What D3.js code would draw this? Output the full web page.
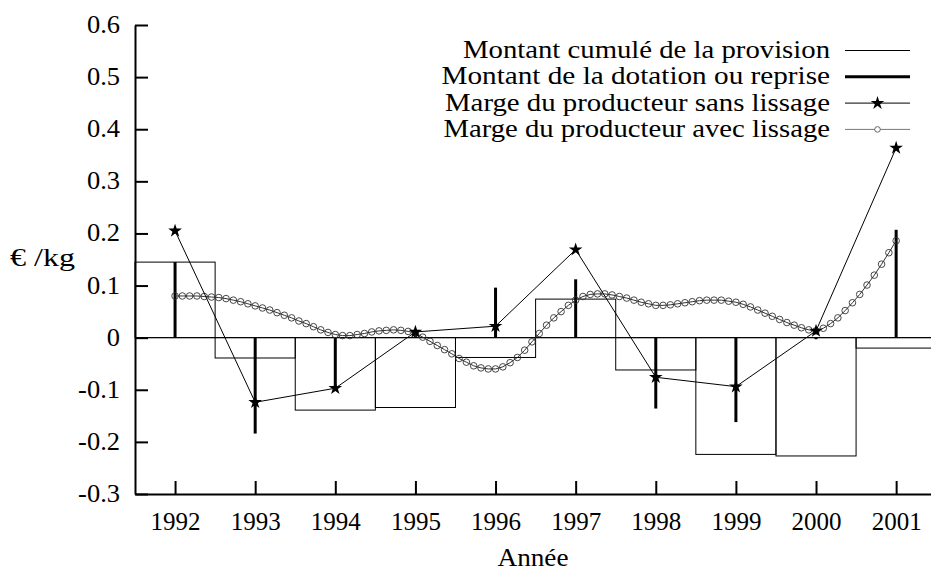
<!DOCTYPE html>
<html>
<head>
<meta charset="utf-8">
<script src="https://cdn.jsdelivr.net/npm/d3@7"></script>
<style>
  html, body { margin: 0; padding: 0; background: #fff; }
  svg { display: block; }
  svg text { font-family: "Liberation Serif", "DejaVu Serif", "Noto Serif", serif; fill: #000; }
</style>
</head>
<body>
<svg id="chart" width="931" height="572"></svg>
<script>
// Années
const years = [1992, 1993, 1994, 1995, 1996, 1997, 1998, 1999, 2000, 2001];

// Montant cumulé de la provision (€/kg)
const provisionCumul = [0.145, -0.039, -0.139, -0.134, -0.038, 0.074, -0.062, -0.224, -0.227, -0.020];

// Montant de la dotation (ou reprise) de l'année (€/kg)
const dotation = [0.145, -0.184, -0.100, 0.005, 0.096, 0.112, -0.136, -0.162, -0.003, 0.207];

// Marge du producteur sans lissage (€/kg)
const margeSansLissage = [0.205, -0.124, -0.097, 0.011, 0.022, 0.169, -0.076, -0.094, 0.013, 0.364];

// Marge du producteur avec lissage : 100 échantillons réguliers de 1992 à 2001
const margeAvecLissage = [
  0.080, 0.080, 0.080, 0.080, 0.079, 0.078, 0.077, 0.075, 0.072, 0.069,
  0.065, 0.061, 0.057, 0.053, 0.048, 0.043, 0.038, 0.032, 0.027, 0.021,
  0.015, 0.010, 0.006, 0.004, 0.004, 0.006, 0.008, 0.011, 0.013, 0.014,
  0.015, 0.014, 0.012, 0.009, 0.001, -0.007, -0.015, -0.023, -0.031, -0.040,
  -0.047, -0.054, -0.058, -0.060, -0.060, -0.056, -0.048, -0.038, -0.024, -0.008,
  0.008, 0.024, 0.038, 0.050, 0.062, 0.072, 0.079, 0.083, 0.084, 0.084,
  0.082, 0.079, 0.076, 0.072, 0.068, 0.065, 0.062, 0.062, 0.063, 0.065,
  0.067, 0.069, 0.071, 0.072, 0.072, 0.072, 0.070, 0.068, 0.064, 0.059,
  0.053, 0.047, 0.041, 0.035, 0.029, 0.024, 0.019, 0.015, 0.013, 0.018,
  0.027, 0.038, 0.052, 0.067, 0.083, 0.101, 0.120, 0.141, 0.163, 0.186
];

// Graduations de l'axe vertical
const yTicks = [-0.3, -0.2, -0.1, 0, 0.1, 0.2, 0.3, 0.4, 0.5, 0.6];

// Légende
const legendLabels = [
  "Montant cumulé de la provision",
  "Montant de la dotation ou reprise",
  "Marge du producteur sans lissage",
  "Marge du producteur avec lissage"
];

const svg = d3.select("#chart");
const FONT = 25;
const SERIF = '"Liberation Serif", "DejaVu Serif", "Noto Serif", serif';

const x = d3.scaleLinear().domain([1991.5, 2001.5]).range([135, 936.2]);
const y = d3.scaleLinear().domain([-0.3, 0.6]).range([494, 25]);

// Widen a text element horizontally around its own anchor point
function widen(sel, k) {
  sel.each(function () {
    const t = d3.select(this);
    const tx = +t.attr("x") || 0;
    t.attr("x", tx / k).attr("transform", `scale(${k},1)`);
  });
}

// Barres de provision cumulée (boîtes larges d'une année)
svg.append("g")
  .selectAll("rect")
  .data(years)
  .join("rect")
  .attr("x", (d) => x(d - 0.5))
  .attr("width", (d) => x(d + 0.5) - x(d - 0.5))
  .attr("y", (d, i) => Math.min(y(0), y(provisionCumul[i])))
  .attr("height", (d, i) => Math.abs(y(provisionCumul[i]) - y(0)))
  .attr("fill", "none")
  .attr("stroke", "#000")
  .attr("stroke-width", 1);

// Ligne du zéro
svg.append("line")
  .attr("x1", x(1991.5)).attr("x2", 931)
  .attr("y1", y(0)).attr("y2", y(0))
  .attr("stroke", "#000").attr("stroke-width", 1);

// Dotations / reprises (traits épais)
svg.append("g")
  .selectAll("line")
  .data(years)
  .join("line")
  .attr("x1", (d) => x(d)).attr("x2", (d) => x(d))
  .attr("y1", y(0))
  .attr("y2", (d, i) => y(dotation[i]))
  .attr("stroke", "#000")
  .attr("stroke-width", 3);

// Marge avec lissage : ligne + petits cercles
const smoothPts = margeAvecLissage.map((v, i) => [1992 + i * 9 / (margeAvecLissage.length - 1), v]);
svg.append("path")
  .datum(smoothPts)
  .attr("d", d3.line().x((d) => x(d[0])).y((d) => y(d[1])))
  .attr("fill", "none")
  .attr("stroke", "#333")
  .attr("stroke-width", 1);
svg.append("g")
  .selectAll("circle")
  .data(smoothPts)
  .join("circle")
  .attr("cx", (d) => x(d[0]))
  .attr("cy", (d) => y(d[1]))
  .attr("r", 3.3)
  .attr("fill", "none")
  .attr("stroke", "#333")
  .attr("stroke-width", 0.9);

// Marge sans lissage : ligne + étoiles
svg.append("path")
  .datum(years.map((d, i) => [d, margeSansLissage[i]]))
  .attr("d", d3.line().x((d) => x(d[0])).y((d) => y(d[1])))
  .attr("fill", "none")
  .attr("stroke", "#000")
  .attr("stroke-width", 1);
const star = d3.symbol().type(d3.symbolStar).size(58);
svg.append("g")
  .selectAll("path")
  .data(years)
  .join("path")
  .attr("d", star)
  .attr("transform", (d, i) => `translate(${x(d)},${y(margeSansLissage[i])})`)
  .attr("fill", "#000");

// Axe vertical
const yAxis = svg.append("g")
  .attr("transform", `translate(${x(1991.5)},0)`)
  .call(d3.axisLeft(y)
    .tickValues(yTicks)
    .tickFormat((d) => (d === 0 ? "0" : d.toFixed(1)))
    .tickSizeInner(-13)
    .tickSizeOuter(0)
    .tickPadding(15));
yAxis.attr("font-family", SERIF).attr("font-size", FONT);
yAxis.selectAll("path, line").attr("stroke", "#000").attr("stroke-width", 2);
yAxis.selectAll("text")
  .attr("fill", "#000")
  .attr("dy", "0.3em")
  .call(widen, 1.06);

// Axe horizontal
const xAxis = svg.append("g")
  .attr("transform", `translate(0,${y(-0.3)})`)
  .call(d3.axisBottom(x)
    .tickValues(years)
    .tickFormat((d) => String(d))
    .tickSizeInner(-13)
    .tickSizeOuter(0)
    .tickPadding(19));
xAxis.attr("font-family", SERIF).attr("font-size", FONT);
xAxis.selectAll("path, line").attr("stroke", "#000").attr("stroke-width", 2);
xAxis.selectAll("text")
  .attr("fill", "#000")
  .attr("dy", "0.68em");

// Titres des axes
svg.append("text")
  .attr("x", 533).attr("y", 566)
  .attr("text-anchor", "middle")
  .attr("font-family", SERIF)
  .attr("font-size", FONT)
  .text("Année")
  .call(widen, 1.09);

svg.append("text")
  .attr("x", 10).attr("y", 266)
  .attr("font-family", SERIF)
  .attr("font-size", FONT)
  .attr("textLength", 65)
  .attr("lengthAdjust", "spacingAndGlyphs")
  .text("€ /kg");

// Légende
const legendLeft = [463, 441.5, 445, 443.5];
const legendRight = 830;
const lg = svg.append("g").attr("font-family", SERIF).attr("font-size", FONT);
legendLabels.forEach((label, i) => {
  const ly = 50.5 + i * 26.3;
  lg.append("text")
    .attr("x", legendLeft[i])
    .attr("y", ly + 7.5)
    .attr("textLength", legendRight - legendLeft[i])
    .attr("lengthAdjust", "spacingAndGlyphs")
    .text(label);
  lg.append("line")
    .attr("x1", 845).attr("x2", 910)
    .attr("y1", ly).attr("y2", ly)
    .attr("stroke", i === 3 ? "#777" : "#000")
    .attr("stroke-width", i === 1 ? 3 : 1);
});
lg.append("path")
  .attr("d", star)
  .attr("transform", `translate(877.5,${50.5 + 2 * 26.3})`)
  .attr("fill", "#000");
lg.append("circle")
  .attr("cx", 877.5).attr("cy", 50.5 + 3 * 26.3)
  .attr("r", 2.8)
  .attr("fill", "#fff")
  .attr("stroke", "#555")
  .attr("stroke-width", 0.9);
</script>
</body>
</html>
